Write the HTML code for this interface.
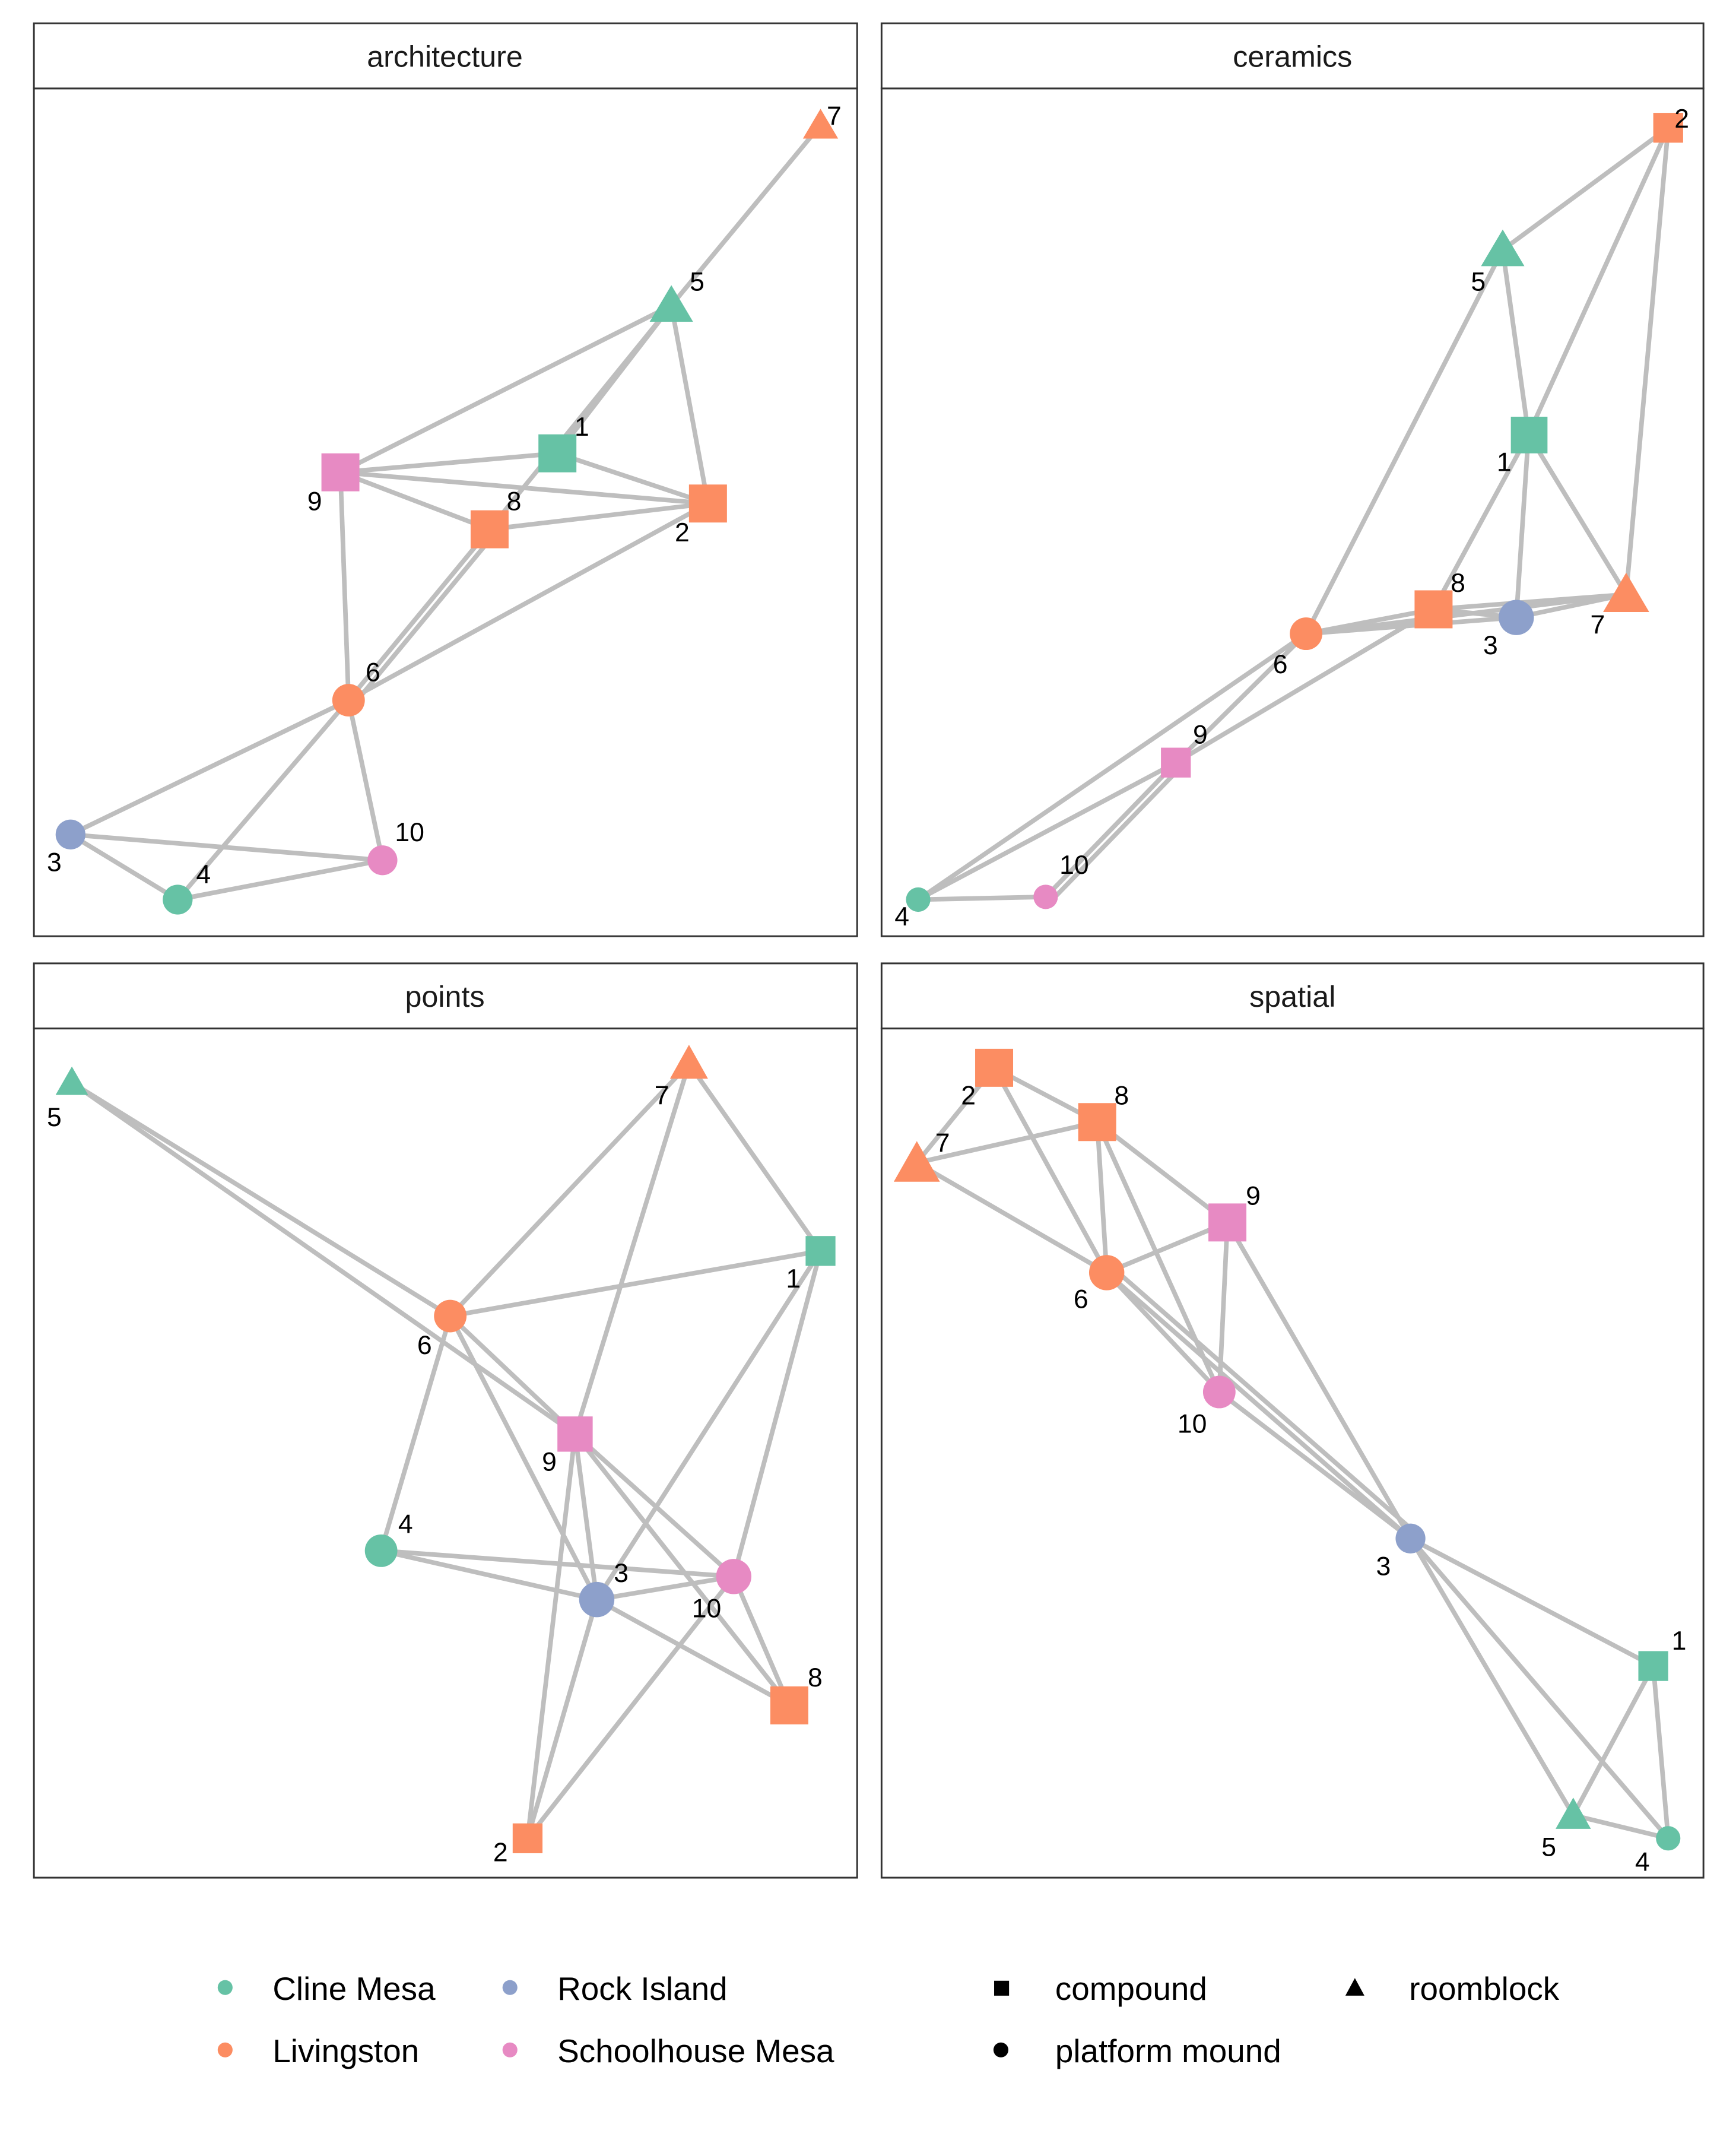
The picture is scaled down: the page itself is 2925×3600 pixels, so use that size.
<!DOCTYPE html>
<html><head><meta charset="utf-8"><style>
html,body{margin:0;padding:0;background:#fff;}
svg{display:block;}
text{font-family:"Liberation Sans",Arial,sans-serif;fill:#000;}
.e{stroke:#bebebe;stroke-width:3.4;fill:none;}
.l{font-size:19.5px;text-anchor:middle;}
.h{font-size:22px;text-anchor:middle;fill:#1a1a1a;}
.g{font-size:24px;}
</style></head><body>
<svg width="2925" height="3600" viewBox="0 0 1280 1575" xmlns="http://www.w3.org/2000/svg">
<rect width="1280" height="1575" fill="#fff"/>
<g fill="none" stroke="#333" stroke-width="1.3">
<rect x="25" y="17" width="607" height="48" fill="#fff"/>
<rect x="25" y="65" width="607" height="625"/>
<rect x="650" y="17" width="606" height="48"/>
<rect x="650" y="65" width="606" height="625"/>
<rect x="25" y="710" width="607" height="48"/>
<rect x="25" y="758" width="607" height="626"/>
<rect x="650" y="710" width="606" height="48"/>
<rect x="650" y="758" width="606" height="626"/>
</g>
<text class="h" x="328" y="49">architecture</text>
<text class="h" x="953" y="49">ceramics</text>
<text class="h" x="328" y="742">points</text>
<text class="h" x="953" y="742">spatial</text>

<g class="e">
<line x1="605" y1="92" x2="495" y2="225"/>
<line x1="495" y1="225" x2="251" y2="348"/>
<line x1="495" y1="225" x2="411" y2="334"/>
<line x1="495" y1="225" x2="361" y2="390"/>
<line x1="495" y1="225" x2="522" y2="371"/>
<line x1="251" y1="348" x2="411" y2="334"/>
<line x1="251" y1="348" x2="522" y2="371"/>
<line x1="251" y1="348" x2="361" y2="390"/>
<line x1="251" y1="348" x2="257" y2="516"/>
<line x1="411" y1="334" x2="522" y2="371"/>
<line x1="361" y1="390" x2="522" y2="371"/>
<line x1="361" y1="390" x2="257" y2="516"/>
<line x1="365" y1="393" x2="261" y2="519"/>
<line x1="257" y1="516" x2="522" y2="371"/>
<line x1="257" y1="516" x2="52" y2="615"/>
<line x1="257" y1="516" x2="131" y2="663"/>
<line x1="257" y1="516" x2="282" y2="634"/>
<line x1="52" y1="615" x2="131" y2="663"/>
<line x1="52" y1="615" x2="282" y2="634"/>
<line x1="131" y1="663" x2="282" y2="634"/>
</g>
<g class="e">
<line x1="1230" y1="94" x2="1108" y2="184"/>
<line x1="1230" y1="94" x2="1127" y2="320"/>
<line x1="1230" y1="94" x2="1199" y2="438"/>
<line x1="1108" y1="184" x2="1127" y2="320"/>
<line x1="1108" y1="184" x2="963" y2="467"/>
<line x1="1127" y1="320" x2="1057" y2="449"/>
<line x1="1127" y1="320" x2="1118" y2="455"/>
<line x1="1127" y1="320" x2="1199" y2="438"/>
<line x1="1057" y1="449" x2="1118" y2="455"/>
<line x1="1057" y1="449" x2="1199" y2="438"/>
<line x1="1118" y1="455" x2="1199" y2="438"/>
<line x1="963" y1="467" x2="1057" y2="449"/>
<line x1="963" y1="467" x2="1118" y2="455"/>
<line x1="963" y1="467" x2="1199" y2="438"/>
<line x1="963" y1="467" x2="867" y2="562"/>
<line x1="867" y1="562" x2="1057" y2="449"/>
<line x1="867" y1="562" x2="771" y2="661"/>
<line x1="871" y1="565" x2="775" y2="664"/>
<line x1="677" y1="663" x2="867" y2="562"/>
<line x1="677" y1="663" x2="963" y2="467"/>
<line x1="677" y1="663" x2="771" y2="661"/>
</g>
<g class="e">
<line x1="53" y1="798" x2="332" y2="970"/>
<line x1="53" y1="798" x2="424" y2="1057"/>
<line x1="332" y1="970" x2="508" y2="784"/>
<line x1="332" y1="970" x2="605" y2="922"/>
<line x1="332" y1="970" x2="424" y2="1057"/>
<line x1="332" y1="970" x2="281" y2="1143"/>
<line x1="332" y1="970" x2="440" y2="1179"/>
<line x1="508" y1="784" x2="605" y2="922"/>
<line x1="508" y1="784" x2="424" y2="1057"/>
<line x1="605" y1="922" x2="440" y2="1179"/>
<line x1="605" y1="922" x2="541" y2="1162"/>
<line x1="424" y1="1057" x2="440" y2="1179"/>
<line x1="424" y1="1057" x2="389" y2="1355"/>
<line x1="424" y1="1057" x2="541" y2="1162"/>
<line x1="424" y1="1057" x2="582" y2="1257"/>
<line x1="281" y1="1143" x2="440" y2="1179"/>
<line x1="281" y1="1143" x2="541" y2="1162"/>
<line x1="440" y1="1179" x2="541" y2="1162"/>
<line x1="440" y1="1179" x2="582" y2="1257"/>
<line x1="440" y1="1179" x2="389" y2="1355"/>
<line x1="389" y1="1355" x2="541" y2="1162"/>
<line x1="541" y1="1162" x2="582" y2="1257"/>
</g>
<g class="e">
<line x1="733" y1="787" x2="676" y2="857"/>
<line x1="733" y1="787" x2="809" y2="827"/>
<line x1="733" y1="787" x2="816" y2="938"/>
<line x1="676" y1="857" x2="809" y2="827"/>
<line x1="676" y1="857" x2="816" y2="938"/>
<line x1="809" y1="827" x2="816" y2="938"/>
<line x1="809" y1="827" x2="905" y2="901"/>
<line x1="809" y1="827" x2="899" y2="1026"/>
<line x1="905" y1="901" x2="816" y2="938"/>
<line x1="905" y1="901" x2="899" y2="1026"/>
<line x1="905" y1="901" x2="1040" y2="1134"/>
<line x1="816" y1="938" x2="899" y2="1026"/>
<line x1="816" y1="938" x2="1040" y2="1134"/>
<line x1="820" y1="934" x2="1044" y2="1130"/>
<line x1="899" y1="1026" x2="1040" y2="1134"/>
<line x1="1040" y1="1134" x2="1219" y2="1228"/>
<line x1="1040" y1="1134" x2="1160" y2="1338"/>
<line x1="1040" y1="1134" x2="1230" y2="1355"/>
<line x1="1219" y1="1228" x2="1160" y2="1338"/>
<line x1="1219" y1="1228" x2="1230" y2="1355"/>
<line x1="1160" y1="1338" x2="1230" y2="1355"/>
</g>

<g>
<polygon points="605,80 618,102 592,102" fill="#FC8D62"/>
<polygon points="495,210 511,237 479,237" fill="#66C2A5"/>
<rect x="397" y="320" width="28" height="28" fill="#66C2A5"/>
<rect x="237" y="334" width="28" height="28" fill="#E78AC3"/>
<rect x="347" y="376" width="28" height="28" fill="#FC8D62"/>
<rect x="508" y="357" width="28" height="28" fill="#FC8D62"/>
<circle cx="257" cy="516" r="12" fill="#FC8D62"/>
<circle cx="52" cy="615" r="11" fill="#8DA0CB"/>
<circle cx="131" cy="663" r="11" fill="#66C2A5"/>
<circle cx="282" cy="634" r="11" fill="#E78AC3"/>
<rect x="1219" y="83" width="22" height="22" fill="#FC8D62"/>
<polygon points="1108,169 1124,196 1092,196" fill="#66C2A5"/>
<rect x="1114" y="307" width="27" height="27" fill="#66C2A5"/>
<polygon points="1199,422 1216,451 1182,451" fill="#FC8D62"/>
<circle cx="1118" cy="455" r="13" fill="#8DA0CB"/>
<rect x="1043" y="435" width="28" height="28" fill="#FC8D62"/>
<circle cx="963" cy="467" r="12" fill="#FC8D62"/>
<rect x="856" y="551" width="22" height="22" fill="#E78AC3"/>
<circle cx="771" cy="661" r="9" fill="#E78AC3"/>
<circle cx="677" cy="663" r="9" fill="#66C2A5"/>
<polygon points="53,786 65,807 41,807" fill="#66C2A5"/>
<polygon points="508,770 522,795 494,795" fill="#FC8D62"/>
<rect x="594" y="911" width="22" height="22" fill="#66C2A5"/>
<circle cx="332" cy="970" r="12" fill="#FC8D62"/>
<rect x="411" y="1044" width="26" height="26" fill="#E78AC3"/>
<circle cx="281" cy="1143" r="12" fill="#66C2A5"/>
<circle cx="440" cy="1179" r="13" fill="#8DA0CB"/>
<circle cx="541" cy="1162" r="13" fill="#E78AC3"/>
<rect x="568" y="1243" width="28" height="28" fill="#FC8D62"/>
<rect x="378" y="1344" width="22" height="22" fill="#FC8D62"/>
<rect x="719" y="773" width="28" height="28" fill="#FC8D62"/>
<rect x="795" y="813" width="28" height="28" fill="#FC8D62"/>
<polygon points="676,841 693,871 659,871" fill="#FC8D62"/>
<rect x="891" y="887" width="28" height="28" fill="#E78AC3"/>
<circle cx="816" cy="938" r="13" fill="#FC8D62"/>
<circle cx="899" cy="1026" r="12" fill="#E78AC3"/>
<circle cx="1040" cy="1134" r="11" fill="#8DA0CB"/>
<rect x="1208" y="1217" width="22" height="22" fill="#66C2A5"/>
<polygon points="1160,1325 1173,1348 1147,1348" fill="#66C2A5"/>
<circle cx="1230" cy="1355" r="9" fill="#66C2A5"/>
</g>

<g class="l">
<text x="615" y="92">7</text><text x="514" y="214">5</text><text x="429" y="321">1</text>
<text x="232" y="376">9</text><text x="379" y="376">8</text><text x="503" y="399">2</text>
<text x="275" y="502">6</text><text x="40" y="642">3</text><text x="150" y="651">4</text><text x="302" y="620">10</text>

<text x="1240" y="94">2</text><text x="1090" y="214">5</text><text x="1109" y="347">1</text>
<text x="1075" y="436">8</text><text x="1099" y="482">3</text><text x="1178" y="467">7</text>
<text x="944" y="496">6</text><text x="885" y="548">9</text><text x="792" y="644">10</text><text x="665" y="682">4</text>

<text x="40" y="830">5</text><text x="488" y="814">7</text><text x="585" y="949">1</text>
<text x="313" y="998">6</text><text x="405" y="1084">9</text><text x="299" y="1130">4</text>
<text x="458" y="1166">3</text><text x="521" y="1192">10</text><text x="601" y="1243">8</text><text x="369" y="1372">2</text>

<text x="714" y="814">2</text><text x="827" y="814">8</text><text x="695" y="849">7</text>
<text x="924" y="888">9</text><text x="797" y="964">6</text><text x="879" y="1056">10</text>
<text x="1020" y="1161">3</text><text x="1238" y="1216">1</text><text x="1142" y="1368">5</text><text x="1211" y="1379">4</text>
</g>

<circle cx="166" cy="1465" r="5.5" fill="#66C2A5"/>
<text class="g" x="201" y="1474">Cline Mesa</text>
<circle cx="376" cy="1465" r="5.5" fill="#8DA0CB"/>
<text class="g" x="411" y="1474">Rock Island</text>
<circle cx="166" cy="1511" r="5.5" fill="#FC8D62"/>
<text class="g" x="201" y="1520">Livingston</text>
<circle cx="376" cy="1511" r="5.5" fill="#E78AC3"/>
<text class="g" x="411" y="1520">Schoolhouse Mesa</text>
<rect x="733" y="1460" width="11" height="11" fill="#000"/>
<text class="g" x="778" y="1474">compound</text>
<polygon points="999,1458 1006,1471 992,1471" fill="#000"/>
<text class="g" x="1039" y="1474">roomblock</text>
<circle cx="738" cy="1511" r="5.5" fill="#000"/>
<text class="g" x="778" y="1520">platform mound</text>
</svg>
</body></html>
